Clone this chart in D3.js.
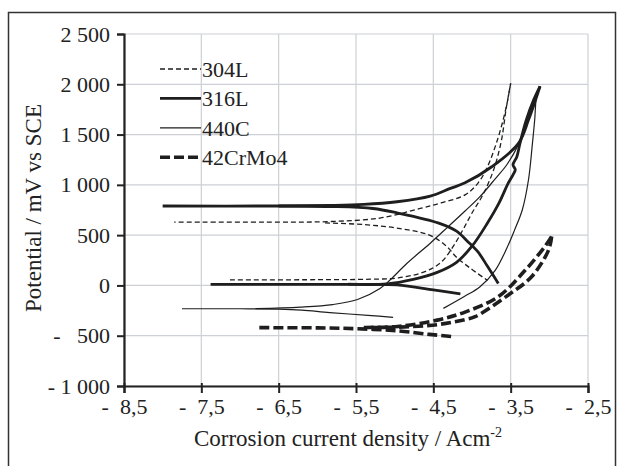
<!DOCTYPE html>
<html>
<head>
<meta charset="utf-8">
<script src="https://cdn.jsdelivr.net/npm/d3@7"></script>
<style>
  body { margin: 0; background: #fff; }
  svg { font-family: "Liberation Serif", "Times New Roman", serif; }
</style>
</head>
<body>
<div class="graph"></div>
<script>
// tick values
const xTicks = [-8.5, -7.5, -6.5, -5.5, -4.5, -3.5, -2.5];
const yTicks = [-1000, -500, 0, 500, 1000, 1500, 2000, 2500];

const seriesNames = ['304L', '316L', '440C', '42CrMo4'];

// each series = scan branches of [log i, E(mV)]
const s304L = [
  [[-7.13, 55], [-6.0, 57], [-5.3, 62], [-4.95, 75], [-4.6, 140], [-4.4, 230], [-4.25, 380], [-4.12, 550],
   [-4.0, 720], [-3.86, 900], [-3.72, 1150], [-3.62, 1440], [-3.56, 1750], [-3.5, 2010]],
  [[-3.5, 2010], [-3.55, 1800], [-3.62, 1580], [-3.7, 1380], [-3.8, 1180], [-3.92, 1020], [-4.09, 900],
   [-4.4, 820], [-4.67, 765], [-5.19, 670], [-5.84, 635], [-6.5, 630], [-7.85, 630]],
  [[-5.9, 622], [-5.4, 605], [-4.97, 570], [-4.55, 500], [-4.33, 390], [-4.2, 280], [-4.02, 170], [-3.8, 50]]
];

const s316L = [
  [[-4.15, -85], [-4.5, -45], [-4.97, 5], [-5.5, 10], [-6.5, 10], [-7.38, 10]],
  [[-5.6, 12], [-5.1, 15], [-4.76, 60], [-4.45, 130], [-4.2, 230], [-4.0, 390], [-3.8, 620], [-3.65, 820],
   [-3.53, 1020], [-3.47, 1100], [-3.44, 1150], [-3.47, 1200], [-3.42, 1280], [-3.38, 1412], [-3.3, 1640],
   [-3.2, 1850], [-3.12, 1980]],
  [[-3.12, 1980], [-3.27, 1644], [-3.4, 1412], [-3.745, 1180], [-4.09, 1020], [-4.28, 965], [-4.54, 888],
   [-4.97, 832], [-5.4, 805], [-5.84, 795], [-6.5, 790], [-8.0, 790]],
  [[-6.5, 790], [-5.84, 785], [-5.28, 765], [-4.96, 720], [-4.43, 620], [-4.2, 540], [-4.06, 440],
   [-3.92, 330], [-3.8, 190], [-3.66, 20]]
];

const s440C = [
  [[-5.02, -317], [-5.3, -300], [-5.84, -270], [-6.2, -245], [-6.5, -235], [-7.0, -232], [-7.75, -232]],
  [[-6.8, -230], [-6.22, -215], [-5.8, -190], [-5.48, -140], [-5.19, -30], [-5.06, 54], [-4.84, 220],
   [-4.54, 420], [-4.3, 590], [-4.09, 740], [-3.9, 880], [-3.7, 1060], [-3.55, 1200], [-3.4, 1400],
   [-3.25, 1700], [-3.12, 1980]],
  [[-3.12, 1980], [-3.16, 1910], [-3.19, 1640], [-3.22, 1400], [-3.27, 1048], [-3.35, 750], [-3.45, 550],
   [-3.55, 370], [-3.7, 150], [-3.9, -15], [-4.1, -110], [-4.37, -228]]
];

const s42CrMo4 = [
  [[-4.27, -507], [-4.55, -487], [-4.96, -452], [-5.5, -430], [-6.0, -422], [-6.78, -420]],
  [[-5.4, -418], [-4.96, -408], [-4.45, -345], [-4.09, -265], [-3.66, -112], [-3.31, 153], [-3.06, 385],
   [-2.97, 487]],
  [[-2.97, 487], [-3.01, 352], [-3.23, 86], [-3.53, -95], [-3.96, -311], [-4.09, -340], [-4.45, -390],
   [-4.96, -415], [-5.3, -418]]
];

const allSeries = [s304L, s316L, s440C, s42CrMo4];

const styles = [
  { width: 1.3, dash: '5,3' },
  { width: 2.8, dash: null },
  { width: 1.2, dash: null },
  { width: 3.6, dash: '10,4' }
];

const W = 624, H = 466;
const margin = { top: 34, right: 36, bottom: 80, left: 124 };
const width = W - margin.left - margin.right,
      height = H - margin.top - margin.bottom;

const scaleX = d3.scaleLinear().domain([-8.5, -2.5]).range([0, width]);
const scaleY = d3.scaleLinear().domain([-1000, 2500]).range([height, 0]);

const nb = '\u00a0';
const fmtX = v => '-' + nb + nb + Math.abs(v).toFixed(1).replace('.', ',');
const fmtY = v => (v < 0 ? '-' + nb + (v > -1000 ? nb + nb : '') : '') + d3.format(',')(Math.abs(v)).replace(',', nb);

const svg = d3.select('.graph').append('svg')
    .attr('width', W)
    .attr('height', H);

// outer frame
svg.append('rect')
    .attr('x', 8.5).attr('y', 12.5)
    .attr('width', 607).attr('height', 470)
    .attr('fill', 'none')
    .attr('stroke', '#333')
    .attr('stroke-width', 1.5);

const g = svg.append('g')
    .attr('transform', 'translate(' + margin.left + ',' + margin.top + ')');

// grid
g.append('g').selectAll('line').data(yTicks).enter().append('line')
    .attr('x1', 0).attr('x2', width)
    .attr('y1', d => scaleY(d)).attr('y2', d => scaleY(d))
    .attr('stroke', '#cdd0d5').attr('stroke-width', 1.2);
g.append('g').selectAll('line').data(xTicks).enter().append('line')
    .attr('y1', 0).attr('y2', height)
    .attr('x1', d => scaleX(d)).attr('x2', d => scaleX(d))
    .attr('stroke', '#cdd0d5').attr('stroke-width', 1.2);

const xAxis = d3.axisBottom(scaleX).tickValues(xTicks).tickFormat(fmtX).tickSizeOuter(0).tickSize(7).tickPadding(5);
const yAxis = d3.axisLeft(scaleY).tickValues(yTicks).tickFormat(fmtY).tickSizeOuter(0).tickSize(7).tickPadding(7);

const gx = g.append('g')
    .attr('class', 'x axis')
    .attr('transform', 'translate(0,' + height + ')')
    .call(xAxis);
const gy = g.append('g')
    .attr('class', 'y axis')
    .call(yAxis);

[gx, gy].forEach(a => {
  a.select('.domain').attr('stroke', '#222').attr('stroke-width', 2.2);
  a.selectAll('.tick line').attr('stroke', '#222').attr('stroke-width', 2);
  a.selectAll('.tick text').attr('fill', '#222').style('font-size', '22px')
    .style('font-family', '"Liberation Serif", serif');
});
gx.selectAll('.tick line').attr('y1', -3);

// curves
const line = d3.line()
    .x(d => scaleX(d[0]))
    .y(d => scaleY(d[1]))
    .curve(d3.curveCatmullRom.alpha(0.5));

allSeries.forEach((series, i) => {
  g.append('g').selectAll('path').data(series).enter().append('path')
      .attr('d', line)
      .attr('fill', 'none')
      .attr('stroke', '#1e1e1e')
      .attr('stroke-width', styles[i].width)
      .attr('stroke-dasharray', styles[i].dash)
      .attr('stroke-linejoin', 'round');
});

// legend
const legend = svg.append('g').attr('transform', 'translate(160,69)');
seriesNames.forEach((name, i) => {
  const row = legend.append('g').attr('transform', 'translate(0,' + (i * 29.4) + ')');
  row.append('line')
      .attr('x1', 0).attr('x2', 41)
      .attr('stroke', '#1e1e1e')
      .attr('stroke-width', styles[i].width)
      .attr('stroke-dasharray', styles[i].dash);
  row.append('text')
      .attr('x', 42).attr('y', 8)
      .attr('fill', '#222')
      .style('font-size', '22px')
      .text(name);
});

// axis titles
svg.append('text')
    .attr('x', margin.left + width / 2 - 8).attr('y', 446)
    .attr('text-anchor', 'middle')
    .attr('fill', '#222')
    .style('font-size', '23px')
    .text('Corrosion current density / Acm')
  .append('tspan')
    .attr('dy', -9)
    .style('font-size', '14px')
    .text('-2');

svg.append('text')
    .attr('transform', 'translate(41,' + (margin.top + 174) + ') rotate(-90)')
    .attr('text-anchor', 'middle')
    .attr('fill', '#222')
    .style('font-size', '23px')
    .text('Potential / mV vs SCE');
</script>
</body>
</html>
